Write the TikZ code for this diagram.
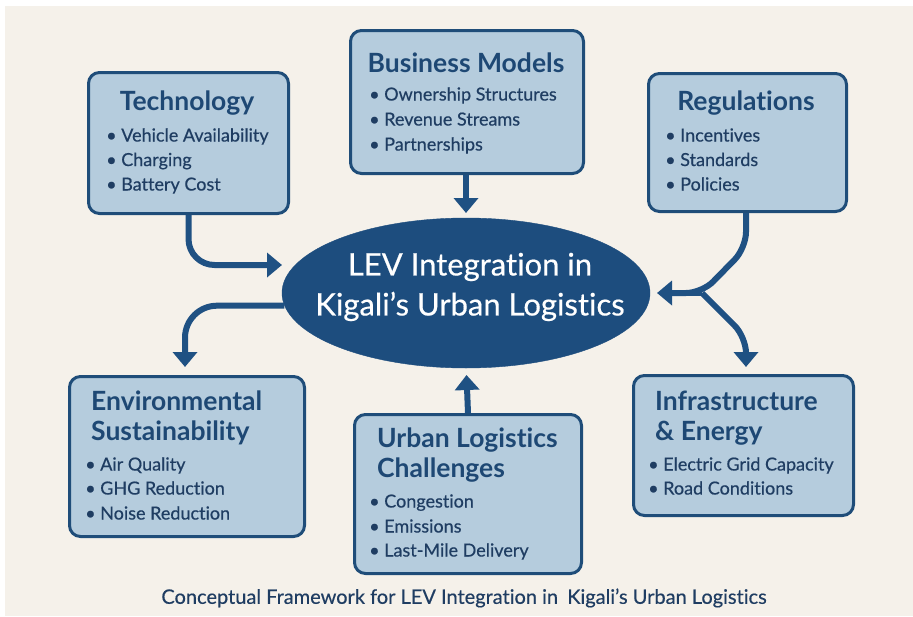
\documentclass[tikz,border=0pt]{standalone}
\usepackage{fontspec}
\setmainfont{Lato}[Ligatures={TeX,NoCommon}]
\newfontfamily\medfont{Lato}[Ligatures={TeX,NoCommon},FakeBold=0.45]
\usetikzlibrary{arrows.meta,shapes.geometric}

\definecolor{bgcream}{HTML}{F5F1EA}
\definecolor{boxfill}{HTML}{B5CCDD}
\definecolor{boxline}{HTML}{1F4D79}
\definecolor{flowblue}{HTML}{1F5183}
\definecolor{hubfill}{HTML}{1D4D7E}
\definecolor{headtxt}{HTML}{1E4874}
\definecolor{itemtxt}{HTML}{1F3D62}

\tikzset{
  panel/.style={draw=boxline, line width=3pt, fill=boxfill, rounded corners=11pt,
    inner sep=0pt, anchor=north west},
  head/.style={font=\bfseries\fontsize{26.5}{30}\selectfont, text=headtxt, inner sep=0pt},
  item/.style={font=\medfont\fontsize{18}{21}\selectfont, text=itemtxt, anchor=mid west, inner sep=0pt},
  flowline/.style={draw=flowblue, line width=6pt},
  flow/.style={flowline, -{Triangle[width=24pt,length=15pt]}},
}

\begin{document}
\begin{tikzpicture}[x=1pt,y=-1pt]
  % page and backdrop
  \fill[white] (0,0) rectangle (913,616);
  \fill[bgcream] (5,6) rectangle (913,616);
  \useasboundingbox (0,0) rectangle (913,616);

  % central hub
  \node[ellipse, fill=hubfill, draw=hubfill, minimum width=368pt, minimum height=150pt,
        inner sep=0pt] (hub) at (466,293) {};
  \node[font=\medfont\fontsize{31}{40}\selectfont, text=white, align=center, inner sep=0pt]
        (hubtext) at (470,287) {LEV Integration in\\Kigali's Urban Logistics};

  % Technology
  \node[panel, minimum width=200pt, minimum height=141pt] (tech) at (87,71) {};
  \node[head] (techhead) at (187,103) {Technology};
  \node[item] (tech1) at (106,139) {• Vehicle Availability};
  \node[item] (tech2) at (106,163.5) {• Charging};
  \node[item] (tech3) at (106,188) {• Battery Cost};

  % Business Models
  \node[panel, minimum width=233pt, minimum height=143pt] (biz) at (349,29) {};
  \node[head] (bizhead) at (466,63) {Business Models};
  \node[item] (biz1) at (369,98) {• Ownership Structures};
  \node[item] (biz2) at (369,123) {• Revenue Streams};
  \node[item] (biz3) at (369,148) {• Partnerships};

  % Regulations
  \node[panel, minimum width=198pt, minimum height=138pt] (reg) at (647,72) {};
  \node[head] (reghead) at (746,103) {Regulations};
  \node[item] (reg1) at (665,139) {• Incentives};
  \node[item] (reg2) at (665,163.5) {• Standards};
  \node[item] (reg3) at (665,188) {• Policies};

  % Environmental Sustainability
  \node[panel, minimum width=235pt, minimum height=160pt] (env) at (68,375) {};
  \node[head, align=left, anchor=west] (envhead) at (91,418) {Environmental\\Sustainability};
  \node[item] (env1) at (85,468) {• Air Quality};
  \node[item] (env2) at (85,492) {• GHG Reduction};
  \node[item] (env3) at (85,517) {• Noise Reduction};

  % Urban Logistics Challenges
  \node[panel, minimum width=227pt, minimum height=159pt] (urban) at (353,413) {};
  \node[head, align=left, anchor=west] (urbanhead) at (377,455) {Urban Logistics\\Challenges};
  \node[item] (urban1) at (369,505) {• Congestion};
  \node[item] (urban2) at (369,530) {• Emissions};
  \node[item] (urban3) at (369,554) {• Last-Mile Delivery};

  % Infrastructure & Energy
  \node[panel, minimum width=220pt, minimum height=140pt] (infra) at (632,374) {};
  \node[head, align=left, anchor=west] (infrahead) at (655,418) {Infrastructure\\\& Energy};
  \node[item] (infra1) at (648,468) {• Electric Grid Capacity};
  \node[item] (infra2) at (648,492) {• Road Conditions};

  % caption
  \node[font=\medfont\fontsize{20}{23}\selectfont, text=itemtxt, inner sep=0pt] (caption)
        at (464,598) {Conceptual Framework for LEV Integration in\hspace{0.2em} Kigali's Urban Logistics};

  % connector ends
  \coordinate (techtip) at (282,265);
  \coordinate (biztip) at (466,213);
  \coordinate (regbend) at (746,248);
  \coordinate (regfork) at (702,293);
  \coordinate (regtip) at (657,293);
  \coordinate (infrabend) at (746,337);
  \coordinate (infratip) at (746,367);
  \coordinate (envtip) at (185,367);
  \coordinate (urbantip) at (466.5,375);

  % connectors
  \draw[flow, rounded corners=26pt] (tech.south) |- (techtip);
  \draw[flow] (biz.south -| biztip) -- (biztip);
  \draw[flowline, rounded corners=16pt] (reg.south -| regbend) -- (regbend) -- (regfork) -- ([xshift=6pt]regtip);
  \draw[flow] (regfork) -- (regtip);
  \draw[flow, rounded corners=16pt] (regfork) -- (infrabend) -- (infratip);
  \draw[flow, rounded corners=32pt] (hub.184) -| (envtip);
  \draw[flow] (urban.north) -- (urbantip);
\end{tikzpicture}
\end{document}
